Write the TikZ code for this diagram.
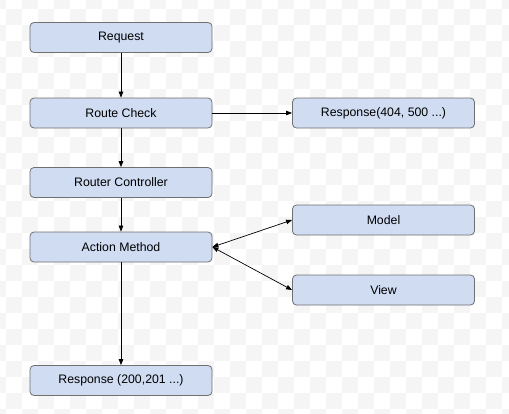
\documentclass[tikz,border=0pt]{standalone}
\usepackage{fontspec}
\setmainfont{Liberation Sans}
\usetikzlibrary{arrows.meta}
\definecolor{boxfill}{HTML}{CFDCF2}
\definecolor{boxline}{HTML}{707070}
\definecolor{checker}{HTML}{F5F5F5}
\begin{document}
\begin{tikzpicture}[x=1pt,y=-1pt,
        box/.style={draw=boxline,fill=boxfill,rounded corners=4pt,line width=0.8pt,
            minimum width=182pt,minimum height=30pt,inner sep=0pt,
            font=\fontsize{12.3}{14}\selectfont},
        link/.style={-{Triangle[length=6pt,width=4.5pt]},line width=0.7pt},
        both/.style={{Triangle[length=6pt,width=4.5pt]}-{Triangle[length=6pt,width=4.5pt]},line width=0.7pt}]
\useasboundingbox (0,0) rectangle (509,413);
% background checker
\fill[white] (0,0) rectangle (509,413);
\begin{scope}
\clip (0,0) rectangle (509,413);
\foreach \i in {0,...,32}
  \foreach \j in {0,...,26}{
    \pgfmathtruncatemacro\k{mod(\i+\j,2)}
    \ifnum\k=0 \fill[checker] (\i*16-10,\j*16-7) rectangle ++(16,16); \fi
  }
\end{scope}

\node[box] (request) at (121,37.5) {Request};
\node[box] (check) at (121,113) {Route Check};
\node[box] (error) at (383.5,113) {Response(404, 500 ...)};
\node[box] (controller) at (121,182.5) {Router Controller};
\node[box] (action) at (121,247) {Action Method};
\node[box] (model) at (383.5,220) {Model};
\node[box] (view) at (383.5,290) {View};
\node[box] (done) at (121,380.5) {Response (200,201 ...)};

\draw[link] (request) -- (check);
\draw[link] (check) -- (error);
\draw[link] (check) -- (controller);
\draw[link] (controller) -- (action);
\draw[link] (action) -- (done);
\draw[both] (action.east) -- (model.west);
\draw[both] (action.east) -- (view.west);
\end{tikzpicture}
\end{document}
